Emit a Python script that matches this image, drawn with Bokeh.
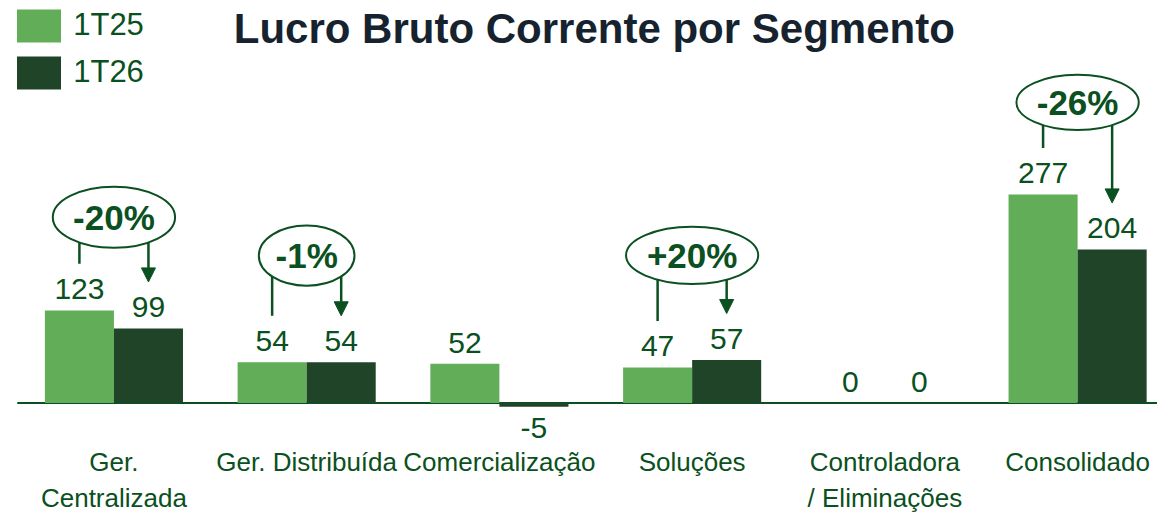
from bokeh.plotting import figure
from bokeh.models import Range1d, ColumnDataSource, Arrow, NormalHead, Legend, LegendItem
from bokeh.core.properties import value
from bokeh.embed import file_html
from bokeh.resources import INLINE
import math

# ---------------- data ----------------
categories = ["Ger.\nCentralizada", "Ger. Distribuída", "Comercialização",
              "Soluções", "Controladora\n/ Eliminações", "Consolidado"]
series_names = ["1T25", "1T26"]
values_1t25 = [123, 54, 52, 47, 0, 277]
values_1t26 = [99, 54, -5, 57, 0, 204]
title_text = "Lucro Bruto Corrente por Segmento"

# variation callouts: (category index, label)
callout_idx = [0, 1, 3, 5]
callout_text = ["-20%", "-1%", "+20%", "-26%"]

# ---------------- layout / style ----------------
W, H = 1157, 514
SX, SY = W / 1173, H / 530
PX_PER_GROUP = 195.4 * SX     # horizontal pixels per category
PX_PER_UNIT = 0.776 * SY      # vertical pixels per value unit
ZERO_X_PX = 115 * SX          # canvas x of first category centre
ZERO_Y_PX = 415 * SY          # canvas y of value 0
ALPHA_FIX = 0.32              # alphabetic baseline correction (em)

LIGHT = "#62AD57"
DARK = "#1F4428"
TXT = "#0A5020"
TITLE = "#16232F"
FONT = "Liberation Sans"

def dx(px):
    return px / PX_PER_GROUP

def dy(px):
    return px / PX_PER_UNIT

def ydata(canvas_y):
    return (ZERO_Y_PX - canvas_y) / PX_PER_UNIT

def xdata(canvas_x):
    return (canvas_x - ZERO_X_PX) / PX_PER_GROUP

p = figure(width=W, height=H, output_backend="svg", toolbar_location=None,
           x_range=Range1d(xdata(0), xdata(W)), y_range=Range1d(ydata(H), ydata(0)),
           min_border=0, min_border_left=0, min_border_right=0,
           min_border_top=0, min_border_bottom=0)
p.axis.visible = False
p.grid.visible = False
p.outline_line_color = None
p.background_fill_color = "white"
p.border_fill_color = "white"

n = len(categories)
xs = list(range(n))
bw = dx(70 * SX)

# baseline
p.segment(x0=[xdata(17 * SX)], y0=[0], x1=[xdata(W)], y1=[0], line_color=TXT, line_width=2)

src1 = ColumnDataSource(dict(x=[x - bw / 2 for x in xs], top=values_1t25))
src2 = ColumnDataSource(dict(x=[x + bw / 2 for x in xs], top=values_1t26))
r1 = p.vbar(x="x", top="top", bottom=0, width=bw, source=src1,
            fill_color=LIGHT, line_color=None)
r2 = p.vbar(x="x", top="top", bottom=0, width=bw, source=src2,
            fill_color=DARK, line_color=None)

# value labels
VAL_FS = 30
def labels(src, vals):
    pos = [i for i in range(n) if vals[i] >= 0]
    neg = [i for i in range(n) if vals[i] < 0]
    p.text(x=[src.data["x"][i] for i in pos], y=[vals[i] for i in pos],
           text=[str(vals[i]) for i in pos], text_align="center", text_baseline="alphabetic",
           y_offset=-(12 * SY) - ALPHA_FIX * VAL_FS, text_font=value(FONT),
           text_font_size=f"{VAL_FS}px", text_color=TXT)
    if neg:
        p.text(x=[src.data["x"][i] for i in neg], y=[vals[i] for i in neg],
               text=[str(vals[i]) for i in neg], text_align="center", text_baseline="alphabetic",
               y_offset=(32 * SY) - ALPHA_FIX * VAL_FS, text_font=value(FONT),
               text_font_size=f"{VAL_FS}px", text_color=TXT)

labels(src1, values_1t25)
labels(src2, values_1t26)

# category labels
p.text(x=xs, y=[ydata(446)] * n, text=categories, text_align="center", text_baseline="top",
       text_font=value(FONT), text_font_size="26px", text_color=TXT, text_line_height=1.2)

# title (kept fully inside the canvas)
TITLE_FS = 42
p.text(x=[xdata(602 * SX)], y=[ydata(4)], text=[title_text],
       text_align="center", text_baseline="top", text_font=value(FONT),
       text_font_size=f"{TITLE_FS}px", text_font_style="bold", text_color=TITLE)

# callouts
ell_w_px = [124, 97, 134, 124]
ell_h_px = [63, 62, 59, 57]
ell_gap_px = [96, 110, 108, 95]   # ellipse centre above taller bar top (reference px)
off = 35 * SX                      # px offset of connectors from group centre
ex, ey, ew, eh = [], [], [], []
lx0, ly0, lx1, ly1 = [], [], [], []
ax0, ay0, ax1, ay1 = [], [], [], []
for k, i in enumerate(callout_idx):
    a, b = values_1t25[i], values_1t26[i]
    w_px, h_px = ell_w_px[k] * SX, ell_h_px[k] * SY
    cy = max(a, b) + dy(ell_gap_px[k] * SY)
    ex.append(i); ey.append(cy); ew.append(dx(w_px)); eh.append(dy(h_px))
    yb = cy - dy(h_px / 2) * math.sqrt(1 - (off / (w_px / 2)) ** 2)
    lx0.append(i - dx(off)); ly0.append(yb); lx1.append(i - dx(off)); ly1.append(a + dy(48 * SY))
    ax0.append(i + dx(off)); ay0.append(yb); ax1.append(i + dx(off)); ay1.append(b + dy(48 * SY))

p.segment(x0=lx0, y0=ly0, x1=lx1, y1=ly1, line_color=TXT, line_width=2.5)
asrc = ColumnDataSource(dict(x0=ax0, y0=ay0, x1=ax1, y1=ay1))
p.add_layout(Arrow(end=NormalHead(size=14, fill_color=TXT, line_color=TXT, line_width=1),
                   x_start="x0", y_start="y0", x_end="x1", y_end="y1", source=asrc,
                   line_color=TXT, line_width=2.5))
p.ellipse(x=ex, y=ey, width=ew, height=eh, fill_color="white", line_color=TXT, line_width=2)
p.text(x=ex, y=ey, text=callout_text, text_align="center", text_baseline="middle",
       text_font=value(FONT), text_font_size="35px", text_font_style="bold", text_color=TXT)

# legend
gw, gh = 44.4 / 0.8, 32.5 / 0.8
leg_left = 17 * SX - gw * 0.1
leg_top = 10 * SY - gh * 0.1
leg_spacing = 5.8
leg_h = 2 * gh + leg_spacing
legend = Legend(items=[LegendItem(label=series_names[0], renderers=[r1]),
                       LegendItem(label=series_names[1], renderers=[r2])],
                location=(leg_left, H - leg_top - leg_h), orientation="vertical",
                glyph_width=int(round(gw)), glyph_height=int(round(gh)),
                spacing=int(round(leg_spacing)), padding=0, margin=0,
                label_standoff=int(round(75 * SX - (leg_left + gw))),
                label_text_font=FONT, label_text_font_size="31px",
                label_text_color=TXT, border_line_color=None, background_fill_alpha=0)
p.add_layout(legend)

open("out.html", "w").write(file_html(p, INLINE))
